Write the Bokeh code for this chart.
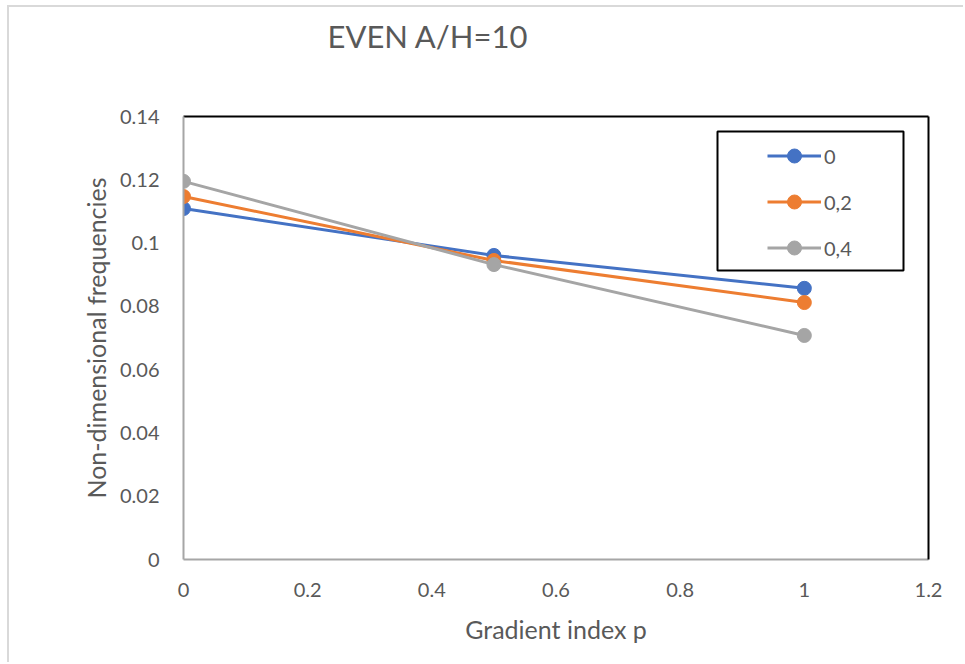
from bokeh.plotting import figure
from bokeh.models import (LinearAxis, FixedTicker, Legend, LegendItem, BoxAnnotation, Range1d, Title)
from bokeh.embed import file_html
from bokeh.resources import INLINE

# ---- data ----
x_values = [0, 0.5, 1]
series_names = ["0", "0,2", "0,4"]
series_0 = [0.1109, 0.0961, 0.0857]
series_02 = [0.1147, 0.0945, 0.0812]
series_04 = [0.1195, 0.0932, 0.0708]
series_colors = ["#4472C4", "#ED7D31", "#A5A5A5"]

x_ticks = [0, 0.2, 0.4, 0.6, 0.8, 1.0, 1.2]
x_tick_labels = ["0", "0.2", "0.4", "0.6", "0.8", "1", "1.2"]
y_ticks = [0, 0.02, 0.04, 0.06, 0.08, 0.10, 0.12, 0.14]
y_tick_labels = ["0", "0.02", "0.04", "0.06", "0.08", "0.1", "0.12", "0.14"]

title_text = "EVEN A/H=10"
x_label = "Gradient index p"
y_label = "Non-dimensional frequencies"

FONT = "Lato"
TXT = "#595959"

p = figure(width=956, height=657, output_backend="svg", toolbar_location=None,
           x_range=Range1d(0, 1.2), y_range=Range1d(0, 0.14),
           min_border_left=174, min_border_right=37, min_border_top=109, min_border_bottom=105)
p.title = None
p.background_fill_color = "white"
p.border_fill_color = "white"
p.outline_line_color = None
p.xgrid.visible = False
p.ygrid.visible = False

for ax, ticks, labels in ((p.xaxis[0], x_ticks, x_tick_labels), (p.yaxis[0], y_ticks, y_tick_labels)):
    ax.ticker = FixedTicker(ticks=ticks)
    ax.major_label_overrides = {t: l for t, l in zip(ticks, labels)}
    ax.major_tick_line_color = None
    ax.minor_tick_line_color = None
    ax.axis_line_color = "#A6A6A6"
    ax.axis_line_width = 2
    ax.major_label_text_font = FONT
    ax.major_label_text_font_size = "20px"
    ax.major_label_text_color = TXT
    ax.axis_label_text_font = FONT
    ax.axis_label_text_font_size = "25px"
    ax.axis_label_text_font_style = "normal"
    ax.axis_label_text_color = TXT

p.xaxis[0].axis_label = x_label
p.yaxis[0].axis_label = y_label
p.xaxis[0].major_label_standoff = 17
p.xaxis[0].axis_label_standoff = 14
p.yaxis[0].major_label_standoff = 18
p.yaxis[0].axis_label_standoff = 6

# black frame lines on top and right
top_axis = LinearAxis(major_tick_line_color=None, minor_tick_line_color=None,
                      major_label_text_font_size="0px", axis_line_color="black", axis_line_width=2,
                      ticker=FixedTicker(ticks=[]), axis_label=" ", axis_label_standoff=37,
                      axis_label_text_font_size="20px")
p.add_layout(top_axis, "above")
right_axis = LinearAxis(major_tick_line_color=None, minor_tick_line_color=None,
                        major_label_text_font_size="0px", axis_line_color="black", axis_line_width=2,
                        ticker=FixedTicker(ticks=[]))
p.add_layout(right_axis, "right")

title = Title(text=title_text, align="left", offset=144, standoff=0,
              text_font=FONT, text_font_size="31px", text_font_style="normal", text_color=TXT)
p.add_layout(title, "above")

items = []
for name, ys, c in zip(series_names, [series_0, series_02, series_04], series_colors):
    l = p.line(x_values, ys, line_color=c, line_width=3)
    s = p.scatter(x_values, ys, size=14, fill_color=c, line_color=c)
    items.append(LegendItem(label=name, renderers=[l, s]))

legend = Legend(items=items, location=(577, 287), padding=7, spacing=11,
                glyph_width=54, glyph_height=35, label_height=35, label_standoff=3,
                label_text_font=FONT, label_text_font_size="20px", label_text_color=TXT,
                border_line_alpha=0, background_fill_alpha=0)
p.add_layout(legend, "center")

box = BoxAnnotation(left=534, right=720, top=428, bottom=289,
                    left_units="screen", right_units="screen", top_units="screen", bottom_units="screen",
                    fill_alpha=0, line_color="black", line_alpha=1, line_width=2)
p.add_layout(box)

p.styles = {"margin-left": "7px", "margin-top": "5px",
            "border-left": "2px solid #D9D9D9", "border-top": "2px solid #D9D9D9"}

open("out.html", "w").write(file_html(p, INLINE))
